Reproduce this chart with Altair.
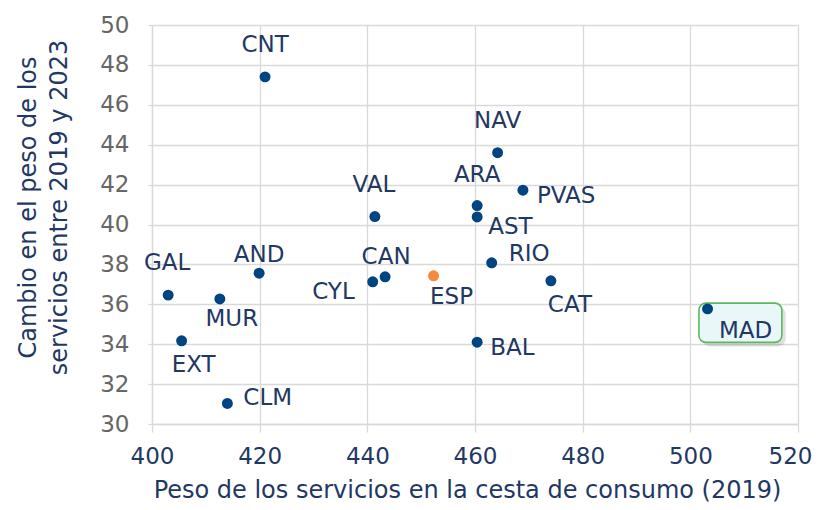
import altair as alt
import pandas as pd

# ---- data ----
regions = ["CNT", "NAV", "VAL", "ARA", "AST", "PVAS", "GAL", "MUR", "AND",
           "EXT", "CLM", "CYL", "CAN", "ESP", "RIO", "BAL", "CAT", "MAD"]
peso_2019 = [421.0, 464.2, 441.4, 460.4, 460.4, 468.9, 403.0, 412.6, 419.9,
             405.5, 414.0, 441.0, 443.3, 452.3, 463.1, 460.4, 474.1, 503.2]
cambio_19_23 = [47.40, 43.60, 40.40, 40.95, 40.38, 41.72, 36.46, 36.27, 37.56,
                34.17, 31.03, 37.13, 37.38, 37.43, 38.08, 34.10, 37.18, 35.77]
grupo = ["ESP" if r == "ESP" else "CCAA" for r in regions]

x_ticks = [400, 420, 440, 460, 480, 500, 520]
y_ticks = [30, 32, 34, 36, 38, 40, 42, 44, 46, 48, 50]
x_title = "Peso de los servicios en la cesta de consumo (2019)"
y_title = ["Cambio en el peso de los", "servicios entre 2019 y 2023"]
highlight = "MAD"

# ---- layout / style (not data) ----
label_pos = {  # align, dx, dy in pixels
    "CNT": ("center", 0, -32), "NAV": ("center", 0, -32), "VAL": ("center", -1, -32),
    "ARA": ("center", 0, -31), "AST": ("left", 11, 10), "PVAS": ("left", 14, 6),
    "GAL": ("center", -1, -32), "MUR": ("center", 12, 20), "AND": ("center", 0, -18),
    "EXT": ("center", 12, 24), "CLM": ("left", 16, -5), "CYL": ("right", -18, 10),
    "CAN": ("center", 1, -20), "ESP": ("center", 18, 21), "RIO": ("left", 17, -9),
    "BAL": ("left", 13, 6), "CAT": ("center", 19, 24), "MAD": ("center", 38, 22),
}
FONT = "DejaVu Sans"
NAVY = "#1F3864"
GRID = "#D9D9D9"

df = pd.DataFrame({"region": regions, "peso": peso_2019,
                   "cambio": cambio_19_23, "grupo": grupo})

x_scale = alt.Scale(domain=[400, 520], nice=False, zero=False)
y_scale = alt.Scale(domain=[30, 50], nice=False, zero=False)

x_axis = alt.Axis(values=x_ticks, title=x_title, labelColor=NAVY, titleColor=NAVY,
                  labelFont=FONT, titleFont=FONT, labelFontSize=23, titleFontSize=24,
                  titleFontWeight="normal", tickSize=8, labelPadding=13,
                  titleX=315, titleY=73, titleBaseline="alphabetic", titleAlign="center",
                  labelFlush=False,
                  labelOffset={"condition": {"test": f"datum.value == {x_ticks[-1]}",
                                             "value": -8}, "value": 0})
y_axis = alt.Axis(values=y_ticks, title=y_title, labelColor="#666666", titleColor=NAVY,
                  labelFont=FONT, titleFont=FONT, labelFontSize=23, titleFontSize=24,
                  titleFontWeight="normal", tickSize=4, labelPadding=19,
                  titleX=-112, titleY=182, titleAngle=270, titleBaseline="bottom",
                  titleAlign="center", titleLineHeight=31, labelFlush=False)


def X(field):
    return alt.X(f"{field}:Q", scale=x_scale, axis=x_axis)


def Y(field):
    return alt.Y(f"{field}:Q", scale=y_scale, axis=y_axis)


base = alt.Chart(df)

box_src = base.transform_filter(alt.datum.region == highlight).transform_calculate(
    bx1=alt.datum.peso - 1.6, bx2=alt.datum.peso + 13.8,
    by1=alt.datum.cambio + 0.29, by2=alt.datum.cambio - 1.68,
    sx1=alt.datum.peso - 1.0, sx2=alt.datum.peso + 14.5,
    sy1=alt.datum.cambio + 0.12, sy2=alt.datum.cambio - 1.88,
)
shadow = box_src.mark_rect(cornerRadius=8, fill="#000000", opacity=0.12).encode(
    x=X("sx1"), x2="sx2:Q", y=Y("sy1"), y2="sy2:Q")
box = box_src.mark_rect(cornerRadius=7, fill="#EAF7F9", stroke="#5CB85C",
                        strokeWidth=1.6).encode(
    x=X("bx1"), x2="bx2:Q", y=Y("by1"), y2="by2:Q")

points = base.mark_circle(size=120, opacity=1).encode(
    x=X("peso"), y=Y("cambio"),
    color=alt.Color("grupo:N", scale=alt.Scale(domain=["CCAA", "ESP"],
                                                 range=["#004481", "#F58A3C"]),
                    legend=None),
)

labels = []
for r in regions:
    a, dx, dy = label_pos[r]
    labels.append(
        base.transform_filter(alt.datum.region == r)
        .mark_text(align=a, dx=dx, dy=dy, baseline="middle", font=FONT,
                   fontSize=23, color=NAVY)
        .encode(x=X("peso"), y=Y("cambio"), text="region:N")
    )

chart = alt.layer(shadow, box, points, *labels).properties(
    width=646, height=399,
    autosize=alt.AutoSizeParams(type="none"),
    padding={"left": 144, "top": 17, "right": 15, "bottom": 78},
).configure_view(stroke=None).configure_axis(
    gridColor=GRID, gridWidth=1.3, domainColor=GRID, domainWidth=1.3,
    tickColor=GRID, tickWidth=1.3, grid=True,
)

chart.save("out.html", embed_options={"renderer": "svg", "actions": False})
